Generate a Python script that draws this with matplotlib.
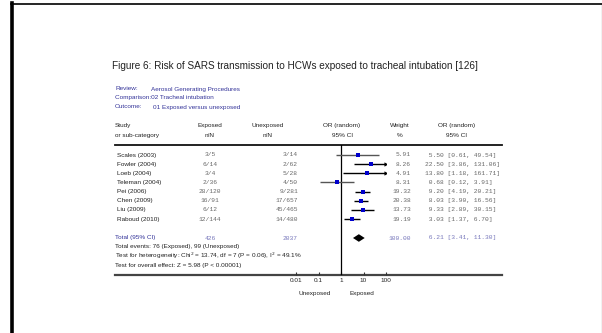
import numpy as np
import matplotlib.pyplot as plt

studies = ["Scales (2003)", "Fowler (2004)", "Loeb (2004)", "Teleman (2004)",
           "Pei (2006)", "Chen (2009)", "Liu (2009)", "Raboud (2010)"]
exposed = ["3/5", "6/14", "3/4", "2/36", "28/120", "16/91", "6/12", "12/144"]
unexposed = ["3/14", "2/62", "5/28", "4/50", "9/281", "17/657", "45/465", "14/480"]
weights = [5.91, 8.26, 4.91, 8.31, 19.32, 20.38, 13.73, 19.19]
odds = [5.50, 22.50, 13.80, 0.68, 9.20, 8.03, 9.33, 3.03]
lower = [0.61, 3.86, 1.18, 0.12, 4.19, 3.90, 2.89, 1.37]
upper = [49.54, 131.06, 161.71, 3.91, 20.21, 16.56, 30.15, 6.70]

total_n = [426, 2037]
total_or, total_lo, total_hi = 6.21, 3.41, 11.30
ticks = [0.01, 0.1, 1, 10, 100]
tick_labels = ["0.01", "0.1", "1", "10", "100"]

W, H = 602, 333
fig = plt.figure(figsize=(W / 100, H / 100), dpi=100)

# page in pixel coordinates
pg = fig.add_axes([0, 0, 1, 1])
pg.set_xlim(0, W)
pg.set_ylim(H, 0)
pg.axis("off")

pg.plot([11.5, 11.5], [3, H], color="black", lw=2.6)
pg.plot([11, 601.5], [3.5, 3.5], color="black", lw=1.2)
pg.plot([601.5, 601.5], [3, H], color="black", lw=0.8)

sans = "Liberation Sans"
mono = "Liberation Mono"
navy = "#333399"
grey = "#666666"
small = 4.55
num = 4.5

pg.text(112, 66, "Figure 6: Risk of SARS transmission to HCWs exposed to tracheal intubation [126]",
        fontsize=7.2, family=sans, va="center", color="#222222")

pg.text(115, 89, "Review:", fontsize=small, family=sans, color=navy, va="center")
pg.text(151, 89, "Aerosol Generating Procedures", fontsize=small, family=sans, color=navy, va="center")
pg.text(115, 98, "Comparison:02 Tracheal intubation", fontsize=small, family=sans, color=navy, va="center")
pg.text(115, 107, "Outcome:", fontsize=small, family=sans, color=navy, va="center")
pg.text(153, 107, "01 Exposed versus unexposed", fontsize=small, family=sans, color=navy, va="center")

hdr = dict(fontsize=small, family=sans, color="#222222", va="center")
pg.text(115, 126, "Study", **hdr)
pg.text(115, 135.5, "or sub-category", **hdr)
pg.text(210, 126, "Exposed", ha="center", **hdr)
pg.text(210, 135.5, "n/N", ha="center", **hdr)
pg.text(268, 126, "Unexposed", ha="center", **hdr)
pg.text(268, 135.5, "n/N", ha="center", **hdr)
pg.text(342, 126, "OR (random)", ha="center", **hdr)
pg.text(342, 135.5, "95% CI", ha="center", **hdr)
pg.text(400, 126, "Weight", ha="center", **hdr)
pg.text(400, 135.5, "%", ha="center", **hdr)
pg.text(457, 126, "OR (random)", ha="center", **hdr)
pg.text(457, 135.5, "95% CI", ha="center", **hdr)

pg.plot([115, 502], [145, 145], color="#111111", lw=1.3)
pg.plot([115, 502], [275, 275], color="#444444", lw=1.6)

row_y = [155 + 9.15 * i for i in range(len(studies))]
tot_y = 238

for i, y in enumerate(row_y):
    pg.text(117, y, studies[i], fontsize=small, family=sans, color="#222222", va="center")
    pg.text(210, y, exposed[i], fontsize=num, family=mono, color=grey, va="center", ha="center")
    pg.text(298, y, unexposed[i], fontsize=num, family=mono, color=grey, va="center", ha="right")
    pg.text(411, y, "%.2f" % weights[i], fontsize=num, family=mono, color=grey, va="center", ha="right")
    ci = "%5.2f [%.2f, %.2f]" % (odds[i], lower[i], upper[i])
    pg.text(425, y, ci, fontsize=num, family=mono, color=grey, va="center", ha="left")

tot_col = "#7777bb"
pg.text(115, tot_y, "Total (95% CI)", fontsize=small, family=sans, color=navy, va="center")
pg.text(210, tot_y, str(total_n[0]), fontsize=num, family=mono, color=tot_col, va="center", ha="center")
pg.text(298, tot_y, str(total_n[1]), fontsize=num, family=mono, color=tot_col, va="center", ha="right")
pg.text(411, tot_y, "100.00", fontsize=num, family=mono, color=tot_col, va="center", ha="right")
pg.text(425, tot_y, "%5.2f [%.2f, %.2f]" % (total_or, total_lo, total_hi),
        fontsize=num, family=mono, color=tot_col, va="center", ha="left")

pg.text(115, 246.5, "Total events: 76 (Exposed), 99 (Unexposed)", **hdr)
pg.text(115, 256, "Test for heterogeneity: Chi$^2$ = 13.74, df = 7 (P = 0.06), I$^2$ = 49.1%", **hdr)
pg.text(115, 265.5, "Test for overall effect: Z = 5.98 (P < 0.00001)", **hdr)

pg.text(315, 294, "Unexposed", ha="center", **hdr)
pg.text(362, 294, "Exposed", ha="center", **hdr)

# forest panel: log odds ratio scale
x0, x1 = 296, 386
y_top, y_bot = 145, 275
fa = fig.add_axes([x0 / W, (H - y_bot) / H, (x1 - x0) / W, (y_bot - y_top) / H])
fa.set_xscale("log")
fa.set_xlim(0.01, 100)
fa.set_ylim(y_bot, y_top)
fa.patch.set_alpha(0)
for s in fa.spines.values():
    s.set_visible(False)
fa.set_yticks([])
fa.set_xticks(ticks)
fa.set_xticklabels(tick_labels, fontsize=small, family=sans, color="#222222")
fa.xaxis.set_minor_locator(plt.NullLocator())
fa.tick_params(axis="x", which="major", direction="in", length=2.5, width=0.8,
               color="#333333", pad=2.5)
fa.axvline(1, color="black", lw=0.9)

for i, y in enumerate(row_y):
    crosses = lower[i] < 1 < upper[i]
    lc = "#555555" if crosses else "black"
    hi = min(upper[i], 100)
    fa.plot([lower[i], hi], [y, y], color=lc, lw=1.0, solid_capstyle="butt")
    if upper[i] > 100:
        fa.plot([100, 100], [y - 2, y + 2], color="black", lw=0.8)
        fa.plot(100, y, marker=">", color="black", ms=3, mew=0)
    size = 2.6 + 0.03 * weights[i]
    fa.plot(odds[i], y, marker="s", color="#0000cc", ms=size, mew=0)

fa.fill([total_lo, total_or, total_hi, total_or],
        [tot_y, tot_y - 3.8, tot_y, tot_y + 3.8], color="black", lw=0)

fig.savefig("out.png", dpi=100)
